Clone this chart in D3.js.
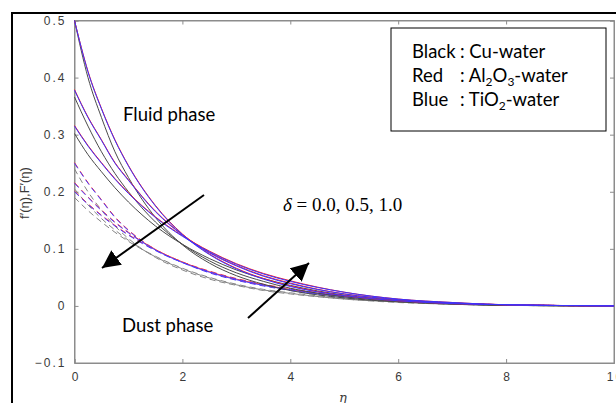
<!DOCTYPE html>
<html>
<head>
<meta charset="utf-8">
<script src="https://cdn.jsdelivr.net/npm/d3@7"></script>
<style>
  html, body { margin: 0; padding: 0; background: #fff; }
  svg { display: block; }
</style>
</head>
<body>
<svg id="chart" width="616" height="403"></svg>
<script>
////////// DATA //////////

// similarity variable eta, where every curve is sampled
const eta = [0, 0.25, 0.5, 0.75, 1, 1.5, 2, 2.5, 3, 3.5, 4, 5, 6, 7, 8, 10];

// fluid phase f'(eta), delta = 0.0, 0.5, 1.0
const fluidCu_d0   = [0.5, 0.40, 0.33, 0.27, 0.225, 0.155, 0.107, 0.075, 0.053, 0.038, 0.027, 0.014, 0.007, 0.003, 0.001, 0];
const fluidCu_d05  = [0.366, 0.315, 0.27, 0.232, 0.20, 0.147, 0.108, 0.079, 0.058, 0.043, 0.031, 0.016, 0.008, 0.004, 0.001, 0];
const fluidCu_d1   = [0.302, 0.265, 0.235, 0.207, 0.182, 0.14, 0.108, 0.083, 0.063, 0.048, 0.036, 0.019, 0.010, 0.005, 0.001, 0];
const fluidAl_d0   = [0.5, 0.411, 0.346, 0.291, 0.246, 0.176, 0.126, 0.091, 0.066, 0.048, 0.035, 0.018, 0.009, 0.004, 0.002, 0];
const fluidAl_d05  = [0.379, 0.331, 0.291, 0.251, 0.221, 0.166, 0.125, 0.094, 0.071, 0.053, 0.040, 0.021, 0.011, 0.005, 0.002, 0];
const fluidAl_d1   = [0.316, 0.281, 0.251, 0.223, 0.198, 0.156, 0.123, 0.096, 0.074, 0.057, 0.044, 0.024, 0.012, 0.006, 0.002, 0];
const fluidTi_d0   = [0.5, 0.41, 0.345, 0.29, 0.245, 0.175, 0.125, 0.09, 0.065, 0.047, 0.034, 0.018, 0.009, 0.004, 0.002, 0];
const fluidTi_d05  = [0.378, 0.33, 0.29, 0.25, 0.22, 0.165, 0.124, 0.093, 0.07, 0.052, 0.039, 0.021, 0.011, 0.005, 0.002, 0];
const fluidTi_d1   = [0.315, 0.28, 0.25, 0.222, 0.197, 0.155, 0.122, 0.095, 0.073, 0.056, 0.043, 0.024, 0.012, 0.006, 0.002, 0];

// dust phase F'(eta), delta = 0.0, 0.5, 1.0
const dustCu_d0    = [0.24, 0.20, 0.168, 0.14, 0.118, 0.085, 0.063, 0.047, 0.036, 0.027, 0.021, 0.012, 0.006, 0.003, 0.001, 0];
const dustCu_d05   = [0.205, 0.177, 0.153, 0.133, 0.115, 0.086, 0.065, 0.049, 0.037, 0.028, 0.022, 0.012, 0.007, 0.003, 0.001, 0];
const dustCu_d1    = [0.19, 0.167, 0.147, 0.129, 0.113, 0.087, 0.066, 0.05, 0.038, 0.029, 0.023, 0.013, 0.007, 0.003, 0.001, 0];
const dustAl_d0    = [0.251, 0.216, 0.186, 0.156, 0.133, 0.099, 0.077, 0.059, 0.046, 0.036, 0.028, 0.016, 0.008, 0.004, 0.002, 0];
const dustAl_d05   = [0.216, 0.191, 0.168, 0.147, 0.129, 0.099, 0.077, 0.060, 0.047, 0.037, 0.029, 0.017, 0.009, 0.004, 0.002, 0];
const dustAl_d1    = [0.201, 0.179, 0.159, 0.141, 0.125, 0.098, 0.077, 0.061, 0.048, 0.038, 0.030, 0.018, 0.009, 0.005, 0.002, 0];
const dustTi_d0    = [0.25, 0.215, 0.185, 0.155, 0.132, 0.098, 0.076, 0.058, 0.045, 0.035, 0.027, 0.015, 0.008, 0.004, 0.002, 0];
const dustTi_d05   = [0.215, 0.19, 0.167, 0.146, 0.128, 0.098, 0.076, 0.059, 0.046, 0.036, 0.028, 0.016, 0.009, 0.004, 0.002, 0];
const dustTi_d1    = [0.20, 0.178, 0.158, 0.14, 0.124, 0.097, 0.076, 0.06, 0.047, 0.037, 0.029, 0.017, 0.009, 0.005, 0.002, 0];

// axis ticks
const xTicks = [0, 2, 4, 6, 8, 10];
const yTicks = [-0.1, 0, 0.1, 0.2, 0.3, 0.4, 0.5];

////////// LAYOUT //////////

const svg = d3.select("#chart");
const plotLeft = 74.5, plotRight = 614, plotTop = 20.5, plotBottom = 363;

const x = d3.scaleLinear().domain([0, 10]).range([plotLeft, plotRight]);
const y = d3.scaleLinear().domain([-0.1, 0.5]).range([plotBottom, plotTop]);

// outer black frame of the figure
svg.append("rect")
    .attr("x", 12).attr("y", 13)
    .attr("width", 640).attr("height", 420)
    .attr("fill", "none")
    .attr("stroke", "#000")
    .attr("stroke-width", 2);

// plot box
svg.append("rect")
    .attr("x", plotLeft).attr("y", plotTop)
    .attr("width", plotRight - plotLeft).attr("height", plotBottom - plotTop)
    .attr("fill", "#fff")
    .attr("stroke", "#8c8c8c")
    .attr("stroke-width", 1);

// axes (ticks drawn inward, like matlab)
const tickFont = "'Liberation Sans', Arial, sans-serif";
const xAxis = svg.append("g")
    .attr("transform", "translate(0," + plotBottom + ")")
    .call(d3.axisBottom(x).tickValues(xTicks).tickSize(-4).tickPadding(9).tickFormat(d3.format("d")));
const xAxisTop = svg.append("g")
    .attr("transform", "translate(0," + plotTop + ")")
    .call(d3.axisTop(x).tickValues(xTicks).tickSize(-4).tickFormat(""));
const yAxis = svg.append("g")
    .attr("transform", "translate(" + plotLeft + ",0)")
    .call(d3.axisLeft(y).tickValues(yTicks).tickSize(-4).tickPadding(8)
        .tickFormat(d => d === 0 ? "0" : d3.format(".1f")(d)));
const yAxisRight = svg.append("g")
    .attr("transform", "translate(" + plotRight + ",0)")
    .call(d3.axisRight(y).tickValues(yTicks).tickSize(-4).tickFormat(""));

[xAxis, xAxisTop, yAxis, yAxisRight].forEach(function(g) {
    g.select(".domain").attr("stroke", "#8c8c8c");
    g.selectAll(".tick line").attr("stroke", "#8c8c8c");
    g.selectAll("text")
        .attr("fill", "#3a3a3a")
        .style("font-family", tickFont)
        .style("font-size", "12px")
        .style("letter-spacing", "2px");
});
// letter-spacing leaves a trailing gap, keep the x labels centred
xAxis.selectAll("text").attr("dx", 1);

// axis labels
svg.append("text")
    .attr("x", 343).attr("y", 402)
    .attr("text-anchor", "middle")
    .attr("fill", "#3a3a3a")
    .style("font-family", "'DejaVu Serif', serif")
    .style("font-style", "italic")
    .style("font-size", "13px")
    .text("η");

svg.append("text")
    .attr("transform", "translate(29,193) rotate(-90)")
    .attr("text-anchor", "middle")
    .attr("fill", "#3a3a3a")
    .style("font-family", tickFont)
    .style("font-size", "13px")
    .text("f′(η),F′(η)");

////////// CURVES //////////

const line = d3.line()
    .x((d, i) => x(eta[i]))
    .y(d => y(d))
    .curve(d3.curveMonotoneX);

const plot = svg.append("g");

function draw_curve(values, color, dashed) {
    plot.append("path")
        .datum(values)
        .attr("d", line)
        .attr("fill", "none")
        .attr("stroke", color)
        .attr("stroke-width", 1)
        .attr("stroke-dasharray", dashed ? "6,4" : null);
}

// dust phase (dashed)
[dustCu_d0, dustCu_d05, dustCu_d1].forEach(s => draw_curve(s, "#858585", true));
[dustAl_d0, dustAl_d05, dustAl_d1].forEach(s => draw_curve(s, "#ff3030", true));
[dustTi_d0, dustTi_d05, dustTi_d1].forEach(s => draw_curve(s, "#4a3cff", true));

// fluid phase (solid)
[fluidCu_d0, fluidCu_d05, fluidCu_d1].forEach(s => draw_curve(s, "#4a4a4a", false));
[fluidAl_d0, fluidAl_d05, fluidAl_d1].forEach(s => draw_curve(s, "#ff2020", false));
[fluidTi_d0, fluidTi_d05, fluidTi_d1].forEach(s => draw_curve(s, "#3b32ff", false));

////////// ANNOTATIONS //////////

const noteFont = "Lato, 'Open Sans', sans-serif";

svg.append("text")
    .attr("x", 123).attr("y", 121)
    .style("font-family", noteFont).style("font-size", "18.5px")
    .text("Fluid phase");

svg.append("text")
    .attr("x", 122).attr("y", 332)
    .style("font-family", noteFont).style("font-size", "18.5px")
    .text("Dust phase");

// delta label
const delta = svg.append("text")
    .attr("x", 283).attr("y", 211)
    .style("font-family", "'Liberation Serif', 'DejaVu Serif', serif")
    .style("font-size", "19px");
delta.append("tspan").style("font-style", "italic").text("δ");
delta.append("tspan").text(" = 0.0, 0.5, 1.0");

// arrows
const defs = svg.append("defs");
defs.append("marker")
    .attr("id", "head")
    .attr("viewBox", "0 0 10 10")
    .attr("refX", 10).attr("refY", 5)
    .attr("markerWidth", 9).attr("markerHeight", 9)
    .attr("markerUnits", "strokeWidth")
    .attr("orient", "auto")
    .append("path")
    .attr("d", "M0,0 L10,5 L0,10 z")
    .attr("fill", "#000");

svg.append("line")
    .attr("x1", 204).attr("y1", 195).attr("x2", 102).attr("y2", 268)
    .attr("stroke", "#000").attr("stroke-width", 2)
    .attr("marker-end", "url(#head)");

svg.append("line")
    .attr("x1", 248).attr("y1", 318).attr("x2", 309).attr("y2", 263)
    .attr("stroke", "#000").attr("stroke-width", 2)
    .attr("marker-end", "url(#head)");

// legend box
svg.append("rect")
    .attr("x", 391).attr("y", 28)
    .attr("width", 215).attr("height", 103)
    .attr("fill", "#fff")
    .attr("stroke", "#000")
    .attr("stroke-width", 1);

const legendRows = [
    {name: "Black", parts: [[": Cu-water", 0]]},
    {name: "Red",   parts: [[": Al", 0], ["2", 1], ["O", 0], ["3", 1], ["-water", 0]]},
    {name: "Blue",  parts: [[": TiO", 0], ["2", 1], ["-water", 0]]}
];

legendRows.forEach(function(row, i) {
    let yy = 58 + i * 24;
    svg.append("text")
        .attr("x", 412).attr("y", yy)
        .style("font-family", noteFont).style("font-size", "18.5px")
        .text(row.name);
    let t = svg.append("text")
        .attr("x", 460).attr("y", yy)
        .style("font-family", noteFont).style("font-size", "18.5px");
    let sub = false;
    row.parts.forEach(function(p) {
        let s = t.append("tspan").text(p[0]);
        if (p[1] && !sub) { s.attr("dy", 4).style("font-size", "12px"); sub = true; }
        else if (p[1] && sub) { s.style("font-size", "12px"); }
        else if (!p[1] && sub) { s.attr("dy", -4); sub = false; }
    });
});
</script>
</body>
</html>
